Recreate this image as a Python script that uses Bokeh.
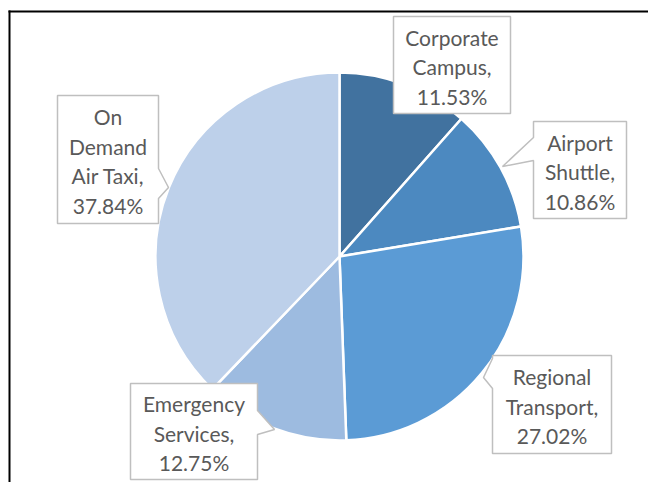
import numpy as np
from bokeh.plotting import figure
from bokeh.models import Range1d, ColumnDataSource
from bokeh.core.properties import value
from bokeh.embed import file_html
from bokeh.resources import INLINE

# ---- data ----
categories = ["Corporate Campus", "Airport Shuttle", "Regional Transport",
              "Emergency Services", "On Demand Air Taxi"]
shares = [11.53, 10.86, 27.02, 12.75, 37.84]
colors = ["#41729F", "#4C89C0", "#5B9BD5", "#9DBBE0", "#BDD0EA"]
# words per label line (layout of the callout text)
label_breaks = [[1, 1], [1, 1], [1, 1], [1, 1], [1, 1, 2]]

# ---- layout (pixel coordinates measured from the chart's top-left) ----
W, H = 648, 482
def px(x):
    return x
def py(y):
    return H - y

center_page = (339, 256)
radius = 184
# callout boxes: left, top, right, bottom ; pointer: side, y1, tip_x, tip_y, y2
boxes = [
    (393, 16, 510, 113, None),
    (533, 121, 626, 218, ("left", 137, 502, 166, 160)),
    (492, 355, 611, 453, ("left", 358, 483, 377, 388)),
    (130, 383, 257, 479, ("right", 410, 274, 429, 434)),
    (57, 95, 158, 223, ("right", 168, 168, 187, 198)),
]
line_gap = 29.5

p = figure(width=W, height=H, output_backend="svg", toolbar_location=None,
           x_range=Range1d(0, W), y_range=Range1d(0, H), min_border=0)
p.axis.visible = False
p.grid.visible = False
p.outline_line_color = None
p.background_fill_color = "white"
p.border_fill_color = "white"

# chart border (top and left visible)
p.line([px(9), px(9)], [py(10), py(600)], line_color="black", line_width=2)
p.line([px(8), px(800)], [py(11), py(11)], line_color="black", line_width=2)

# pie
frac = np.array(shares) / sum(shares)
cum = np.concatenate([[0], np.cumsum(frac)])
start = np.pi / 2 - 2 * np.pi * cum[:-1]
end = np.pi / 2 - 2 * np.pi * cum[1:]
src = ColumnDataSource(dict(start=start, end=end, color=colors))
p.wedge(x=px(center_page[0]), y=py(center_page[1]), radius=radius,
        start_angle="start", end_angle="end", direction="clock",
        fill_color="color", line_color="white", line_width=2.5, source=src)

# callouts
xs, ys = [], []
tx, ty, tt = [], [], []
for i, (name, share) in enumerate(zip(categories, shares)):
    l, t, r, b, ptr = boxes[i]
    pts = [(l, t), (r, t)]
    if ptr and ptr[0] == "right":
        _, y1, tipx, tipy, y2 = ptr
        pts += [(r, y1), (tipx, tipy), (r, y2)]
    pts += [(r, b), (l, b)]
    if ptr and ptr[0] == "left":
        _, y1, tipx, tipy, y2 = ptr
        pts += [(l, y2), (tipx, tipy), (l, y1)]
    xs.append([px(x) for x, _ in pts])
    ys.append([py(y) for _, y in pts])

    words = name.split()
    lines, k = [], 0
    for n in label_breaks[i]:
        lines.append(" ".join(words[k:k + n]))
        k += n
    lines[-1] += ","
    lines.append(f"{share:.2f}%")
    cx = (l + r) / 2
    cy = (t + b) / 2 + 1.5
    n = len(lines)
    for j, s in enumerate(lines):
        tx.append(px(cx))
        ty.append(py(cy + (j - (n - 1) / 2) * line_gap))
        tt.append(s)

p.patches(xs, ys, fill_color="white", line_color="#BFBFBF", line_width=1.5)
p.text(tx, ty, text=tt, text_align="center", text_baseline="middle",
       text_font=value("Lato"), text_font_size="21px", text_color="#595959")

open("out.html", "w").write(file_html(p, INLINE))
